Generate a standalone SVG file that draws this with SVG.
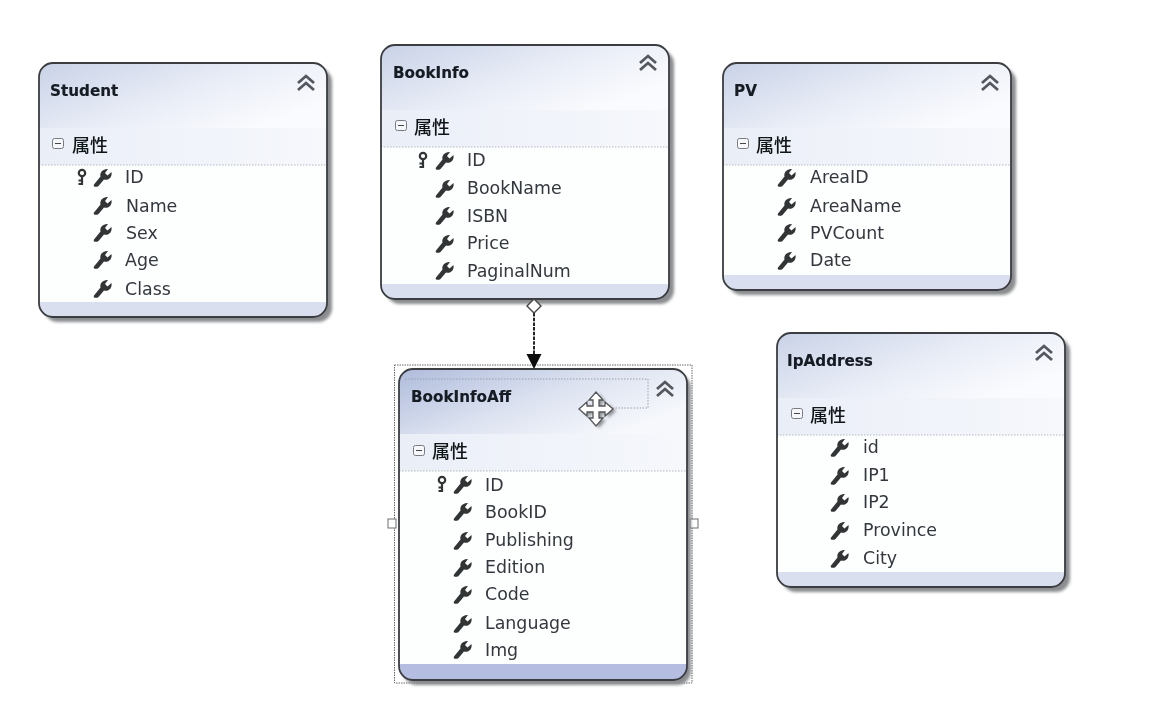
<svg xmlns="http://www.w3.org/2000/svg" width="1153" height="707" viewBox="0 0 1153 707">
<style>
text{font-family:"DejaVu Sans","Noto Sans CJK SC",sans-serif}
.t{font-size:15.2px;font-weight:700;fill:#141a24;stroke:#141a24;stroke-width:.15}
.r{font-size:17.4px;fill:#33373d}
.s{font-size:18px;font-weight:500;fill:#111317;font-family:"Noto Sans CJK SC",sans-serif}
.o{fill:none;stroke:#3a3d41;stroke-width:1.8}
.sh{fill:#8a8c8f;filter:url(#b)}
.b{fill:#fdfefe}
.sec{fill:url(#se)}
.foot{fill:#d9dfee}
.sep{stroke:#b4b8bf;stroke-width:1;stroke-dasharray:1.5 1.5}
</style>
<defs>
<filter id="b" x="-10%" y="-10%" width="120%" height="120%"><feGaussianBlur stdDeviation="1.8"/></filter>
<filter id="soft" filterUnits="userSpaceOnUse" x="0" y="0" width="1153" height="707"><feGaussianBlur stdDeviation="0.4"/></filter>
<linearGradient id="h" x1="0" y1="0" x2="1" y2="0.6"><stop offset="0" stop-color="#c9d2e7"/><stop offset="0.6" stop-color="#eaeef7"/><stop offset="1" stop-color="#fafbfe"/></linearGradient>
<linearGradient id="hs" x1="0" y1="0" x2="1" y2="0.6"><stop offset="0" stop-color="#aebbdb"/><stop offset="0.55" stop-color="#dce2f0"/><stop offset="1" stop-color="#f6f8fc"/></linearGradient>
<linearGradient id="se" x1="0" y1="0" x2="1" y2="0"><stop offset="0" stop-color="#eaeef7"/><stop offset="1" stop-color="#f6f8fc"/></linearGradient>
<clipPath id="c1"><rect x="0" y="0" width="288" height="254" rx="14"/></clipPath>
<clipPath id="c2"><rect x="0" y="0" width="288" height="227" rx="14"/></clipPath>
<clipPath id="c3"><rect x="0" y="0" width="288" height="311" rx="14"/></clipPath>
<g id="w"><path d="M-9 7.5 L-2.5 -0.5 C-3.5 -4.5 0 -8.5 5 -8 L2 -4 L4.5 -1.5 L8.5 -5 C9.5 0.5 5 4 1 2.5 L-4.5 9 C-6.5 10.5 -10.5 10 -9 7.5Z" fill="#333436"/></g>
<g id="k"><circle cx="0" cy="-4" r="3.2" fill="none" stroke="#333436" stroke-width="2.2"/><path d="M0 -1 V8 M0 3.5 H-3.5 M0 7 H-3.5" fill="none" stroke="#333436" stroke-width="2.2"/></g>
<g id="ch"><path d="M-8 -1 L0 -8 L8 -1 M-8 6 L0 -1 L8 6" fill="none" stroke="#55585e" stroke-width="2.8"/></g>
<g id="m"><rect x="0.5" y="0.5" width="11" height="10" rx="2" fill="#f6f7fa" stroke="#777b82"/><path d="M3 5.5 H9" stroke="#444"/></g>
</defs>

<rect width="1153" height="707" fill="#fff"/>

<g filter="url(#soft)">
<g id="selection">
<rect x="394.5" y="365" width="297.5" height="318" fill="#fff" stroke="#66686b" stroke-width="1" stroke-dasharray="1.5 1"/>
<rect x="388" y="519" width="8" height="9" fill="#fff" stroke="#6d6f72"/>
<rect x="690" y="519" width="8" height="9" fill="#fff" stroke="#6d6f72"/>
</g>

<g id="Student" transform="translate(39 63)">
<rect class="sh" x="5" y="5" width="288" height="254" rx="14"/>
<g clip-path="url(#c1)"><rect class="b" width="288" height="254"/><rect width="288" height="65" fill="url(#h)"/><rect class="sec" y="65" width="288" height="37"/><rect class="foot" y="239" width="288" height="15"/></g>
<path class="sep" d="M0 102 H288"/>
<rect class="o" width="288" height="254" rx="14"/>
<text class="t" x="11" y="33">Student</text>
<use href="#ch" x="267" y="21"/>
<use href="#m" x="13" y="75"/>
<text class="s" x="33" y="89">属性</text>
<use href="#k" x="43" y="114"/>
<use href="#w" x="64" y="114"/><use href="#w" x="64" y="142"/><use href="#w" x="64" y="169"/><use href="#w" x="64" y="196"/><use href="#w" x="64" y="225"/>
<text class="r" x="86" y="120">ID</text>
<text class="r" x="87" y="149">Name</text>
<text class="r" x="87" y="176">Sex</text>
<text class="r" x="86" y="203">Age</text>
<text class="r" x="86" y="232">Class</text>
</g>

<g id="BookInfo" transform="translate(381 45)">
<rect class="sh" x="5" y="5" width="288" height="254" rx="14"/>
<g clip-path="url(#c1)"><rect class="b" width="288" height="254"/><rect width="288" height="65" fill="url(#h)"/><rect class="sec" y="65" width="288" height="37"/><rect class="foot" y="239" width="288" height="15"/></g>
<path class="sep" d="M0 102 H288"/>
<rect class="o" width="288" height="254" rx="14"/>
<text class="t" x="12" y="33">BookInfo</text>
<use href="#ch" x="267" y="19"/>
<use href="#m" x="14" y="75"/>
<text class="s" x="33" y="89">属性</text>
<use href="#k" x="42" y="115"/>
<use href="#w" x="64" y="115"/><use href="#w" x="64" y="143"/><use href="#w" x="64" y="170"/><use href="#w" x="64" y="198"/><use href="#w" x="64" y="225"/>
<text class="r" x="86" y="121">ID</text>
<text class="r" x="86" y="149">BookName</text>
<text class="r" x="86" y="177">ISBN</text>
<text class="r" x="86" y="204">Price</text>
<text class="r" x="86" y="232">PaginalNum</text>
</g>

<g id="PV" transform="translate(723 63)">
<rect class="sh" x="5" y="5" width="288" height="227" rx="14"/>
<g clip-path="url(#c2)"><rect class="b" width="288" height="227"/><rect width="288" height="65" fill="url(#h)"/><rect class="sec" y="65" width="288" height="37"/><rect class="foot" y="212" width="288" height="15"/></g>
<path class="sep" d="M0 102 H288"/>
<rect class="o" width="288" height="227" rx="14"/>
<text class="t" x="11" y="33">PV</text>
<use href="#ch" x="267" y="21"/>
<use href="#m" x="14" y="75"/>
<text class="s" x="33" y="89">属性</text>
<use href="#w" x="64" y="114"/><use href="#w" x="64" y="143"/><use href="#w" x="64" y="169"/><use href="#w" x="64" y="197"/>
<text class="r" x="87" y="120">AreaID</text>
<text class="r" x="87" y="149">AreaName</text>
<text class="r" x="87" y="176">PVCount</text>
<text class="r" x="87" y="203">Date</text>
</g>

<g id="IpAddress" transform="translate(777 333)">
<rect class="sh" x="5" y="5" width="288" height="254" rx="14"/>
<g clip-path="url(#c1)"><rect class="b" width="288" height="254"/><rect width="288" height="65" fill="url(#h)"/><rect class="sec" y="65" width="288" height="37"/><rect class="foot" y="239" width="288" height="15"/></g>
<path class="sep" d="M0 102 H288"/>
<rect class="o" width="288" height="254" rx="14"/>
<text class="t" x="10" y="33">IpAddress</text>
<use href="#ch" x="267" y="21"/>
<use href="#m" x="14" y="75"/>
<text class="s" x="33" y="89">属性</text>
<use href="#w" x="63" y="114"/><use href="#w" x="63" y="142"/><use href="#w" x="63" y="169"/><use href="#w" x="63" y="197"/><use href="#w" x="63" y="225"/>
<text class="r" x="86" y="120">id</text>
<text class="r" x="86" y="148">IP1</text>
<text class="r" x="86" y="175">IP2</text>
<text class="r" x="86" y="203">Province</text>
<text class="r" x="86" y="231">City</text>
</g>

<g id="BookInfoAff" transform="translate(399 369)">
<rect class="sh" x="4" y="5" width="288" height="311" rx="14"/>
<g clip-path="url(#c3)"><rect class="b" width="288" height="311"/><rect width="288" height="65" fill="url(#hs)"/><rect class="sec" y="65" width="288" height="37"/><rect y="295" width="288" height="16" fill="#b5bde1"/></g>
<path class="sep" d="M0 102 H288"/>
<rect class="o" width="288" height="311" rx="14"/>
<path d="M6 10 H249 V39 H180" fill="none" stroke="#9aa0ab" stroke-width="1" stroke-dasharray="1.5 1.5"/>
<text class="t" x="12" y="33">BookInfoAff</text>
<use href="#ch" x="266" y="21"/>
<use href="#m" x="14" y="76"/>
<text class="s" x="33" y="89">属性</text>
<use href="#k" x="43" y="115"/>
<use href="#w" x="64" y="115"/><use href="#w" x="64" y="142"/><use href="#w" x="64" y="171"/><use href="#w" x="64" y="198"/><use href="#w" x="64" y="225"/><use href="#w" x="64" y="254"/><use href="#w" x="64" y="280"/>
<text class="r" x="86" y="122">ID</text>
<text class="r" x="86" y="149">BookID</text>
<text class="r" x="86" y="177">Publishing</text>
<text class="r" x="86" y="204">Edition</text>
<text class="r" x="86" y="231">Code</text>
<text class="r" x="86" y="260">Language</text>
<text class="r" x="86" y="287">Img</text>
</g>

<g id="connectors">
<path d="M534 313 V356" stroke="#111" stroke-width="1.8" stroke-dasharray="3.5 1.2" fill="none"/>
<path d="M526.5 354 H541.5 L534 369Z" fill="#0c0c0c"/>
<path d="M534 299 L541 306 L534 313 L527 306Z" fill="#fff" stroke="#444" stroke-width="1.4"/>
</g>

<g id="cursor" transform="translate(596 409)">
<path d="M-17 0 L-9 -7 V-3 H-3 V-9 H-7 L0 -17 L7 -9 H3 V-3 H9 V-7 L17 0 L9 7 V3 H3 V9 H7 L0 17 L-7 9 H-3 V3 H-9 V7Z" fill="#8f9194" filter="url(#b)" transform="translate(3 2)"/>
<path d="M-17 0 L-9 -7 V-3 H-3 V-9 H-7 L0 -17 L7 -9 H3 V-3 H9 V-7 L17 0 L9 7 V3 H3 V9 H7 L0 17 L-7 9 H-3 V3 H-9 V7Z" fill="#fff" stroke="#55575b" stroke-width="1.3"/>
</g>
</g>
</svg>
